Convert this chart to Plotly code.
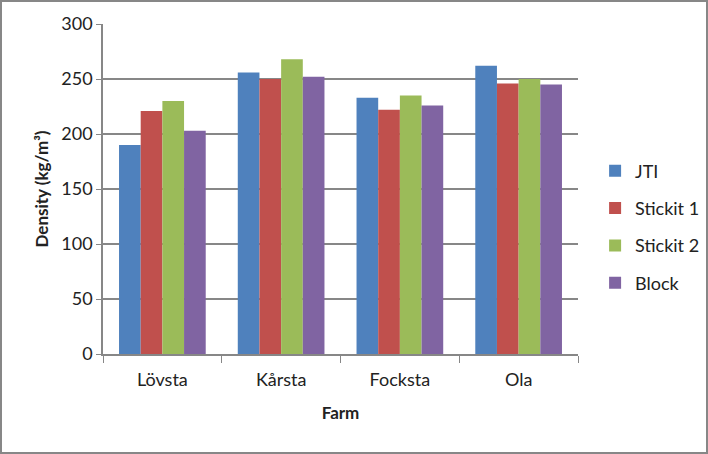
import plotly.graph_objects as go

farms = ["Lövsta", "Kårsta", "Fockista".replace("i", ""), "Ola"]
series_names = ["JTI", "Stickit 1", "Stickit 2", "Block"]
jti = [190, 256, 233, 262]
stickit1 = [221, 250, 222, 246]
stickit2 = [230, 268, 235, 250]
block = [203, 252, 226, 245]
colors = ["#4F81BD", "#C0504D", "#9BBB59", "#8064A2"]

FONT = "Lato, 'Open Sans', sans-serif"

fig = go.Figure()
for name, vals, col in zip(series_names, [jti, stickit1, stickit2, block], colors):
    fig.add_trace(go.Bar(x=farms, y=vals, name=name, marker_color=col,
                         marker_line_width=0, legendgroup=name))

fig.update_layout(
    width=708, height=454,
    margin=dict(l=103, r=130, t=24, b=100, autoexpand=False),
    paper_bgcolor="white", plot_bgcolor="white",
    barmode="group", bargap=0.27, bargroupgap=0,
    font=dict(family=FONT, size=18, color="#222"),
    showlegend=True,
    legend=dict(x=1.036, y=0.385, xanchor="left", yanchor="middle",
                font=dict(size=18), tracegroupgap=11, itemwidth=30,
                bgcolor="rgba(0,0,0,0)"),
    xaxis=dict(
        title=dict(text="<b>Farm</b>", font=dict(size=17), standoff=18),
        showline=True, linecolor="#878787", linewidth=1.5,
        ticks="outside", ticklen=7, tickcolor="#878787", tickson="boundaries",
        tickfont=dict(size=18), ticklabelstandoff=9, automargin=False,
    ),
    yaxis=dict(
        title=dict(text="<b>Density (kg/m³)</b>", font=dict(size=17), standoff=8),
        range=[0, 300], dtick=50,
        showgrid=True, gridcolor="#878787", gridwidth=1.5,
        showline=True, linecolor="#878787", linewidth=1.5,
        ticks="outside", ticklen=5, tickcolor="#878787",
        tickfont=dict(size=18), zeroline=False, automargin=False,
    ),
    shapes=[dict(type="rect", xref="paper", yref="paper",
                 x0=-102/475, x1=(708-103-1)/475, y0=-(454-354-1)/330, y1=1+(24-1)/330,
                 line=dict(color="#878787", width=2))],
)

fig.write_html("out.html", config={"displayModeBar": False},
               post_script="document.body.style.margin='0';")
